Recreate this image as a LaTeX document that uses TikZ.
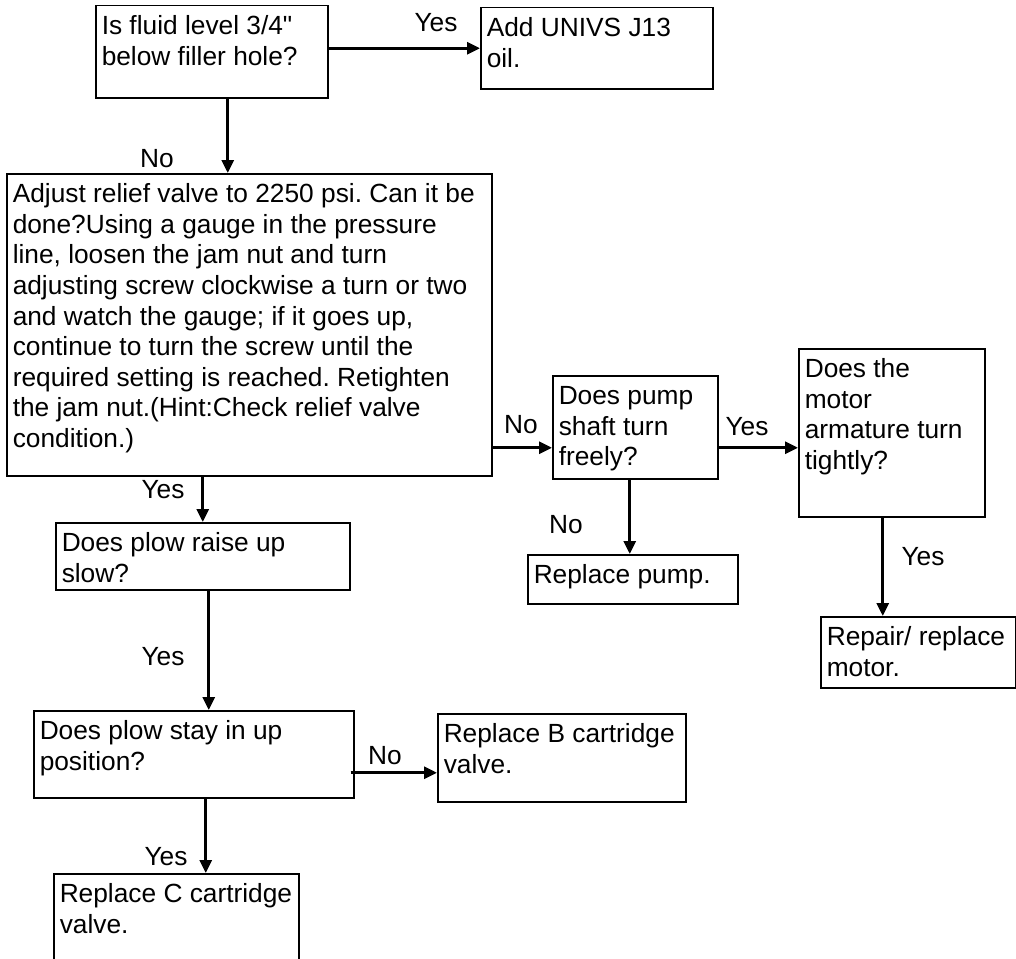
\documentclass[tikz,border=0pt]{standalone}
\usepackage{fontspec}
\setmainfont{Liberation Sans}
\frenchspacing
\usetikzlibrary{arrows.meta, positioning, calc}
% box text: width, height, lines (top-left aligned)
\newcommand{\boxtext}[3]{\parbox[c][#2pt][t]{#1pt}{\raggedright\rule{0pt}{29pt}#3}}

\begin{document}
\begin{tikzpicture}[x=1pt, y=-1pt,
    every node/.style={font=\fontsize{26.3}{30.6}\selectfont},
    box/.style={draw, line width=1.5pt, inner xsep=6pt, inner ysep=0pt, anchor=north west},
    arr/.style={line width=3pt, -{Triangle[length=13pt,width=12pt]}},
    lbl/.style={anchor=base, inner sep=0pt}]
    \useasboundingbox (0,0) rectangle (1016,958);
    \clip (0,0) rectangle (1016,958);

    % Boxes
    \node[box] (level) at (95,5) {\boxtext{220}{92}{Is fluid level 3/4\textquotedbl\\below filler hole?}};
    \node[box] (oil) at (480,7) {\boxtext{220}{81}{Add UNIVS J13\\oil.}};
    \node[box] (adjust) at (6,173) {\boxtext{473}{302}{Adjust relief valve to 2250 psi. Can it be\\
        done?Using a gauge in the pressure\\line, loosen the jam nut and turn\\
        adjusting screw clockwise a turn or two\\and watch the gauge; if it goes up,\\
        continue to turn the screw until the\\required setting is reached. Retighten\\
        the jam nut.(Hint:Check relief valve\\condition.)}};
    \node[box] (shaft) at (552,375) {\boxtext{153}{103}{Does pump\\shaft turn\\freely?}};
    \node[box] (pump) at (527,554) {\boxtext{198}{49}{Replace pump.}};
    \node[box] (armature) at (798,348) {\boxtext{174}{168}{Does the\\motor\\armature turn\\tightly?}};
    \node[box] (motor) at (820,616) {\boxtext{183}{71}{Repair/ replace\\motor.}};
    \node[box] (raise) at (55,522) {\boxtext{282}{67}{Does plow raise up\\slow?}};
    \node[box] (stay) at (33,710) {\boxtext{308}{87}{Does plow stay in up\\position?}};
    \node[box] (cartB) at (437,713) {\boxtext{236}{88}{Replace B cartridge\\valve.}};
    \node[box] (cartC) at (53,873) {\boxtext{233}{110}{Replace C cartridge\\valve.}};

    % Connector ends
    \coordinate (shaftin) at ([yshift=-20.5pt]shaft.west);
    \coordinate (shaftout) at ([yshift=-20.5pt]shaft.east);
    \coordinate (cartBin) at ([yshift=-15pt]cartB.west);
    \coordinate (stayout) at ([xshift=-4pt]stay.east |- cartBin);

    % Connectors
    \draw[arr] (level.east |- oil.west) -- (oil.west);
    \draw[arr] ([xshift=16pt]level.south) -- ([xshift=16pt]level.south |- adjust.north);
    \draw[arr] (adjust.east |- shaftin) -- (shaftin);
    \draw[arr] (shaftout) -- (armature.west |- shaftout);
    \draw[arr] ([xshift=-5.5pt]shaft.south) -- ([xshift=-5.5pt]shaft.south |- pump.north);
    \draw[arr] ([xshift=-9pt]armature.south) -- ([xshift=-9pt]armature.south |- motor.north);
    \draw[arr] (adjust.south -| raise.north) -- (raise.north);
    \draw[arr] ([xshift=6pt]raise.south) -- ([xshift=6pt]raise.south |- stay.north);
    \draw[arr] (stayout) -- (cartBin);
    \draw[arr] ([xshift=12pt]stay.south) -- ([xshift=12pt]stay.south |- cartC.north);

    % Labels
    \node[lbl] (yes1) at (436,32) {Yes};
    \node[lbl] (no1) at (157,167) {No};
    \node[lbl] (no2) at (521,433) {No};
    \node[lbl] (yes2) at (747,435) {Yes};
    \node[lbl] (no3) at (566,533) {No};
    \node[lbl] (yes3) at (923,565) {Yes};
    \node[lbl] (yes4) at (163,498) {Yes};
    \node[lbl] (yes5) at (163,665) {Yes};
    \node[lbl] (no4) at (385,764) {No};
    \node[lbl] (yes6) at (166,865) {Yes};
\end{tikzpicture}
\end{document}
